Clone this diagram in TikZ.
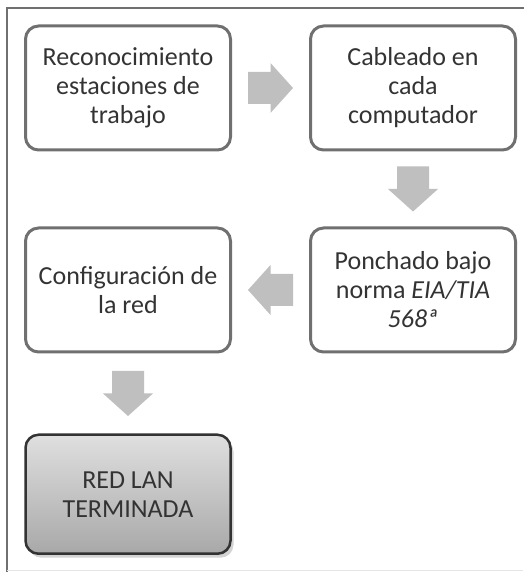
\documentclass[tikz,border=0pt]{standalone}
\usepackage{fontspec}
\setmainfont{Carlito}
\usepackage{tikz}
\usetikzlibrary{shapes}
\usetikzlibrary{positioning}
\usetikzlibrary{calc}
\usetikzlibrary{shadows}
\definecolor{boxline}{HTML}{707070}
\definecolor{boxtext}{HTML}{333333}
\definecolor{blkgray}{HTML}{BFBFBF}

\begin{document}
\begin{tikzpicture}[x=1pt,y=1pt]
\tikzstyle{stepbox}=[draw=boxline, line width=3pt, rounded corners=13pt, minimum width=205pt, minimum height=124pt, align=center, text=boxtext, font=\fontsize{26}{29}\selectfont, inner sep=0pt]
\tikzstyle{endbox}=[stepbox, draw=black!80, line width=2.5pt, minimum height=119pt, top color=gray!25, bottom color=gray!68, drop shadow={opacity=0.35, shadow xshift=3pt, shadow yshift=-4pt}]
\tikzset{blkarrow/.pic={\fill[blkgray] (-22.5,-16) -- (0,-16) -- (0,-25) -- (22.5,0) -- (0,25) -- (0,16) -- (-22.5,16) -- cycle;}}
\useasboundingbox (0,0) rectangle (523,572);
% frame
\draw[boxline, line width=1.5pt] (7,0) -- (7,564) -- (530,564);
\draw[gray!20, line width=1pt] (7,1) -- (523,1);

\node[stepbox] (N1) at (128,484) {Reconocimiento\\estaciones de\\trabajo};
\node[stepbox, right=77pt of N1] (N2) {Cableado en\\cada\\computador};
\node[stepbox, below=75pt of N2] (N4) {Ponchado bajo\\norma \textit{EIA/TIA}\\\textit{568ª}};
\node[stepbox, left=77pt of N4] (N3) {Configuración de\\la red};
\node[endbox, below=80pt of N3] (N5) {RED LAN\\TERMINADA};

% block arrows
\pic at ($(N1.east)!0.5!(N2.west)$) {blkarrow};
\pic[rotate=-90] at ($(N2.south)!0.5!(N4.north)$) {blkarrow};
\pic[rotate=180] at ($(N4.west)!0.5!(N3.east)$) {blkarrow};
\pic[rotate=-90] at ($(N3.south)!0.5!(N5.north)$) {blkarrow};
\end{tikzpicture}
\end{document}
